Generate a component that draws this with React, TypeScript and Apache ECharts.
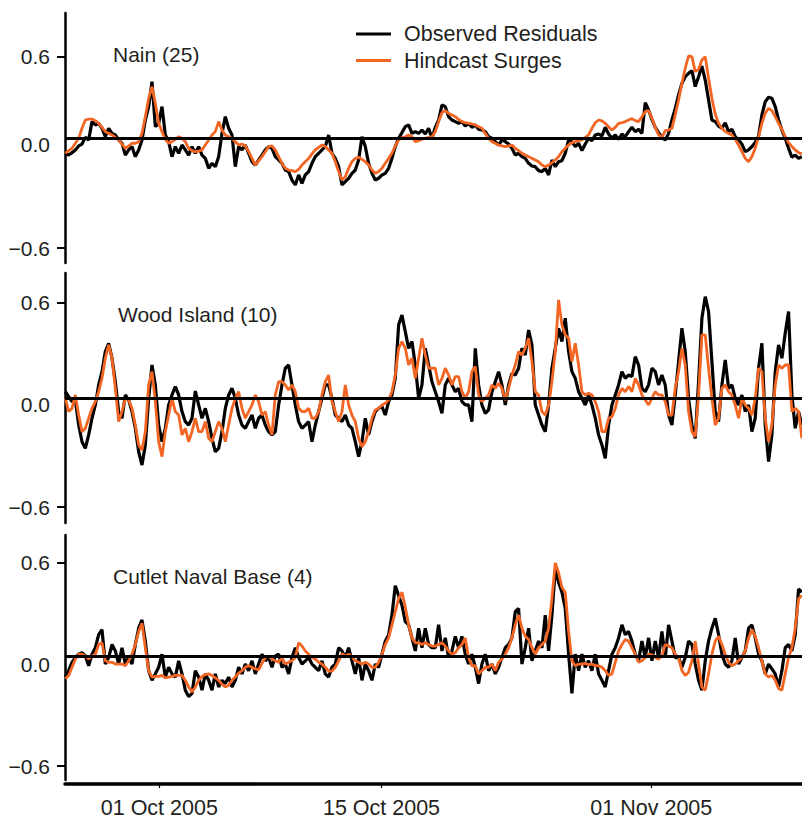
import React, { useEffect, useRef } from "react";
import * as echarts from "echarts";

// ---- Data (storm surge residuals, metres), sampled every ~5 h from 25 Sep 2005 ----
const START_TIME = Date.UTC(2005, 8, 25, 1, 54);
const STEP_HOURS = 5.04;

const SERIES_NAMES = ["Observed Residuals", "Hindcast Surges"];
const STATIONS = ["Nain (25)", "Wood Island (10)", "Cutlet Naval Base (4)"];
const REF_LEVEL = [0.089, 0.04, 0.046];
const Y_TICKS = [-0.6, 0, 0.6];
const X_TICK_DATES = ["2005-10-01", "2005-10-15", "2005-11-01"];

const NAIN_OBS = [
  -0.005, -0.016, -0.001, 0.016, 0.041, 0.053, 0.095, 0.079, 0.194, 0.173,
  0.183, 0.152, 0.099, 0.152, 0.12, 0.11, 0.079, 0.058, -0.016, 0.016,
  0.037, -0.026, 0.016, 0.079, 0.204, 0.288, 0.445, 0.162, 0.183, 0.288,
  0.11, 0.068, -0.026, 0.037, -0.005, 0.047, 0.016, -0.016, 0.037, -0.005,
  0.037, -0.016, -0.037, -0.099, -0.068, -0.089, -0.026, 0.12, 0.225, 0.152,
  0.11, -0.089, 0.037, 0.016, 0.047, -0.005, -0.058, -0.079, -0.047, -0.016,
  0.016, 0.037, 0.026, -0.026, -0.047, -0.068, -0.11, -0.12, -0.173, -0.204,
  -0.141, -0.194, -0.141, -0.12, -0.068, -0.026, -0.005, 0.016, 0.037, 0.11,
  -0.005, -0.037, -0.089, -0.204, -0.183, -0.162, -0.131, -0.11, -0.047, 0.099,
  0.037, -0.068, -0.131, -0.173, -0.162, -0.141, -0.131, -0.099, -0.037, 0.037,
  0.089, 0.125, 0.162, 0.173, 0.12, 0.131, 0.12, 0.141, 0.116, 0.152,
  0.089,
  0.158, 0.204, 0.298, 0.288, 0.225, 0.204, 0.194, 0.183, 0.194, 0.166,
  0.183, 0.158, 0.173, 0.146, 0.141, 0.131, 0.099, 0.089, 0.068, 0.047,
  0.079, 0.068, 0.053, 0.026, -0.016, -0.005, -0.026, -0.037, -0.068, -0.085,
  -0.089, -0.114, -0.12, -0.099, -0.141, -0.047, -0.089, -0.058, -0.051, -0.005,
  0.079, 0.068, 0.037, 0.058, 0.012, 0.053, 0.089, 0.074, 0.11, 0.116,
  0.104, 0.158, 0.116, 0.089, 0.11, 0.083, 0.116, 0.099, 0.131, 0.158,
  0.131, 0.146, 0.12, 0.313, 0.267, 0.208, 0.158, 0.125, 0.095, 0.079,
  0.12, 0.204, 0.277, 0.361, 0.435, 0.476, 0.497, 0.514, 0.414, 0.476,
  0.543, 0.455, 0.33, 0.204, 0.194, 0.166, 0.152, 0.187, 0.131, 0.146,
  0.099, 0.079, 0.053, 0.005, 0.016, 0.037, 0.062, 0.104, 0.236, 0.319,
  0.347, 0.34, 0.288, 0.204, 0.141, 0.089, 0.026, -0.03, -0.016, -0.037,
  -0.026,
];

const NAIN_HIND = [
  -0.005, 0.012, 0.026, 0.058, 0.089, 0.152, 0.204, 0.21, 0.21, 0.2,
  0.183, 0.158, 0.131, 0.12, 0.11, 0.095, 0.079, 0.053, 0.026, 0.041,
  0.058, 0.058, 0.068, 0.12, 0.225, 0.34, 0.414, 0.309, 0.183, 0.131,
  0.083, 0.058, 0.068, 0.083, 0.099, 0.089, 0.068, 0.026, 0.012, 0.005,
  0.009, 0.016, 0.047, 0.079, 0.11, 0.131, 0.194, 0.141, 0.11, 0.099,
  0.089, 0.068, 0.047, 0.053, 0.041, 0.005, -0.037, -0.079, -0.051, -0.026,
  0.005, 0.037, 0.041, 0.016, -0.026, -0.068, -0.099, -0.11, -0.114, -0.12,
  -0.106, -0.079, -0.058, -0.037, -0.009, 0.016, 0.032, 0.047, 0.037, 0.016,
  -0.005, -0.058, -0.12, -0.173, -0.152, -0.099, -0.058, -0.037, -0.03, -0.043,
  -0.058, -0.079, -0.11, -0.131, -0.12, -0.099, -0.068, -0.037, -0.005, 0.041,
  0.079, 0.093, 0.099, 0.11, 0.099, 0.068, 0.074, 0.083, 0.089, 0.095,
  0.099,
  0.131, 0.194, 0.25, 0.263, 0.246, 0.236, 0.225, 0.208, 0.194, 0.187,
  0.183, 0.179, 0.173, 0.162, 0.152, 0.12, 0.089, 0.068, 0.058, 0.047,
  0.041, 0.037, 0.041, 0.047, 0.026, 0.012, -0.005, -0.016, -0.026, -0.037,
  -0.047, -0.058, -0.079, -0.089, -0.079, -0.064, -0.047, -0.026, 0.005, 0.026,
  0.047, 0.062, 0.068, 0.074, 0.079, 0.095, 0.11, 0.152, 0.187, 0.204,
  0.198, 0.183, 0.162, 0.141, 0.158, 0.183, 0.187, 0.194, 0.204, 0.213,
  0.2, 0.194, 0.225, 0.257, 0.263, 0.215, 0.158, 0.11, 0.095, 0.137,
  0.141, 0.152, 0.236, 0.33, 0.435, 0.529, 0.606, 0.602, 0.508, 0.522,
  0.581, 0.602, 0.466, 0.34, 0.242, 0.183, 0.152, 0.131, 0.12, 0.11,
  0.083, 0.047, 0.005, -0.037, -0.058, -0.026, 0.026, 0.099, 0.183, 0.246,
  0.277, 0.263, 0.225, 0.183, 0.146, 0.099, 0.062, 0.037, 0.016, -0.001,
  -0.009,
];

const WOOD_OBS = [
  0.078, 0.049, 0.02, 0.029, -0.118, -0.216, -0.255, -0.176, -0.078, 0,
  0.118, 0.196, 0.314, 0.363, 0.275, 0.137, -0.039, -0.078, 0.059, 0.029,
  -0.039, -0.137, -0.275, -0.353, -0.235, 0.039, 0.235, 0.118, -0.118, -0.216,
  -0.137, 0, 0.059, 0.108, 0.059, -0.039, -0.098, -0.118, -0.078, 0.082,
  0, -0.078, -0.02, -0.098, -0.196, -0.275, -0.255, -0.157, -0.02, 0.059,
  0.098, 0.039, -0.059, -0.118, -0.137, -0.098, -0.059, -0.137, -0.078, -0.059,
  -0.118, -0.157, -0.176, -0.157, 0, 0.118, 0.216, 0.235, 0.118, 0,
  -0.098, -0.137, -0.118, -0.098, -0.216, -0.118, -0.039, 0.039, 0.118, 0.118,
  0.039, -0.059, -0.078, -0.098, -0.059, -0.118, -0.137, -0.216, -0.304, -0.216,
  -0.078, -0.176, -0.098, -0.039, -0.02, -0.01, -0.059, 0.02, 0.059, 0.157,
  0.471, 0.529, 0.431, 0.333, 0.373, 0.235, 0.039, 0.118, 0.333, 0.235,
  0.137,
  0.078, 0.02, -0.049, 0.118, 0.157, 0.118, 0.078, 0.098, 0.02, 0,
  0, -0.098, 0.333, 0.118, 0, -0.049, -0.029, 0.078, 0.137, 0.196,
  0.118, 0, 0.118, 0.186, 0.176, 0.216, 0.333, 0.294, 0.441, 0.353,
  0, -0.059, -0.118, -0.157, 0, 0.216, 0.333, 0.451, 0.373, 0.51,
  0.314, 0.196, 0.157, 0.078, 0.039, 0, 0.059, 0, -0.078, -0.176,
  -0.235, -0.314, -0.118, 0, 0.059, 0.118, 0.196, 0.157, 0.176, 0.167,
  0.284, 0.235, 0.098, 0.078, 0.118, 0.216, 0.196, 0.118, 0.176, 0.118,
  -0.059, -0.118, 0.059, 0.255, 0.451, 0.314, 0.039, -0.118, -0.196, 0.137,
  0.51, 0.637, 0.549, 0.255, -0.039, -0.098, 0.118, 0.265, 0.098, 0.118,
  0.039, 0, 0.059, -0.039, 0, -0.157, -0.078, 0.216, 0.363, -0.118,
  -0.333, -0.176, 0.196, 0.353, 0.275, 0.422, 0.549, 0.059, -0.137, -0.039,
  -0.118,
];

const WOOD_HIND = [
  0.039, -0.039, -0.02, 0.059, -0.059, -0.157, -0.137, -0.078, -0.02, 0.02,
  0.078, 0.157, 0.275, 0.353, 0.275, 0.098, -0.098, -0.039, 0.039, 0.029,
  -0.02, -0.118, -0.235, -0.265, -0.157, 0.118, 0.196, 0.02, -0.216, -0.304,
  -0.157, -0.059, 0.039, -0.039, -0.059, -0.176, -0.137, -0.216, -0.157, -0.078,
  -0.157, -0.157, -0.098, -0.196, -0.216, -0.157, -0.098, -0.137, -0.216, -0.118,
  -0.02, 0.039, 0.078, -0.02, -0.078, -0.039, 0, 0.059, 0.02, -0.059,
  -0.039, -0.118, -0.176, 0.059, 0.137, 0.137, 0.118, 0.088, 0.118, 0.078,
  -0.02, -0.039, -0.039, -0.02, -0.078, -0.078, -0.039, 0.059, 0.137, 0.176,
  0.02, -0.039, -0.098, -0.039, 0.118, 0, -0.059, -0.098, -0.196, -0.245,
  -0.216, -0.157, -0.078, -0.029, -0.02, 0, 0.01, 0.029, 0.078, 0.176,
  0.333, 0.373, 0.333, 0.235, 0.275, 0.157, 0.275, 0.392, 0.294, 0.216,
  0.216,
  0.216, 0.118, 0.157, 0.216, 0.176, 0.118, 0.167, 0.167, 0.078, 0.039,
  0.078, 0.196, 0.226, 0.059, 0.02, 0.039, 0.059, 0.118, 0.098, 0.127,
  0.098, 0.029, 0.098, 0.176, 0.235, 0.314, 0.294, 0.333, 0.392, 0.255,
  0.078, 0.059, -0.039, -0.059, 0, 0.137, 0.314, 0.618, 0.471, 0.412,
  0.392, 0.255, 0.363, 0.235, 0.078, 0.059, 0.069, 0.059, 0.02, -0.039,
  -0.157, -0.157, -0.078, -0.069, -0.02, 0.059, 0.098, 0.078, 0.108, 0.078,
  0.157, 0.118, 0.059, 0.029, 0, 0.039, 0.078, 0.059, 0.059, 0.02,
  -0.059, -0.059, 0.098, 0.196, 0.333, 0.235, -0.039, -0.157, -0.186, 0.059,
  0.412, 0.412, 0.216, 0.039, -0.118, -0.078, 0.098, 0.118, 0.078, 0.059,
  0, -0.078, 0.039, 0, -0.02, -0.059, 0.039, 0.216, 0.196, -0.078,
  -0.216, -0.118, 0.118, 0.235, 0.216, 0.235, 0.235, -0.039, -0.02, -0.039,
  -0.196,
];

const CUTLET_OBS = [
  -0.075, -0.037, 0.012, 0.04, 0.06, 0.069, 0.05, -0.008, 0.06, 0.098,
  0.175, 0.204, 0.002, 0.04, 0.117, 0.079, 0.002, 0.098, 0.002, 0.04,
  0.002, 0.117, 0.213, 0.262, 0.137, -0.037, -0.094, -0.056, -0.017, 0.06,
  -0.075, -0.017, -0.056, -0.075, 0.021, -0.056, -0.152, -0.19, -0.171, -0.037,
  -0.075, -0.152, -0.056, -0.094, -0.152, -0.056, -0.133, -0.094, -0.113, -0.075,
  -0.133, -0.094, -0.017, -0.056, 0.002, -0.037, 0.021, -0.056, 0.002, 0.06,
  0.021, 0.04, -0.017, 0.05, 0.06, -0.017, 0.002, -0.056, 0.04, 0.098,
  0.04, 0.002, 0.021, 0.04, 0.002, -0.017, -0.037, 0.021, -0.056, -0.075,
  -0.017, 0.002, 0.098, 0.079, 0.04, 0.098, 0.021, -0.056, 0.04, -0.094,
  0.002, -0.037, -0.094, 0.002, -0.017, 0.06, 0.137, 0.175, 0.29, 0.463,
  0.406, 0.348, 0.252, 0.233, 0.156, 0.079, 0.213, 0.098, 0.213, 0.117,
  0.098,
  0.098, 0.233, 0.079, 0.156, 0.04, 0.079, 0.165, 0.098, 0.165, 0.06,
  0.002, 0.06, -0.017, -0.113, 0.002, 0.06, -0.037, 0.002, -0.056, -0.017,
  0.04, 0.098, 0.117, 0.156, 0.31, 0.329, 0.002, 0.098, 0.213, 0.021,
  0.079, 0.137, 0.098, 0.29, 0.079, 0.29, 0.56, 0.483, 0.425, 0.329,
  0.06, -0.171, 0.06, -0.037, 0.06, -0.017, 0.021, -0.037, 0.06, -0.056,
  -0.094, -0.133, -0.037, 0.06, 0.098, 0.156, 0.233, 0.175, 0.194, 0.137,
  0.06, 0.021, 0.137, 0.04, 0.156, 0.021, 0.137, 0.04, 0.194, 0.04,
  0.233, 0.137, 0.04, 0.04, -0.017, 0.04, 0.137, 0.117, 0.002, -0.094,
  -0.152, 0.021, 0.137, 0.213, 0.271, 0.175, 0.06, 0.002, -0.017, 0.021,
  0.156, 0.002, 0.04, 0.079, 0.213, 0.233, 0.156, 0.06, 0.021, -0.056,
  0.002, -0.027, -0.056, -0.133, -0.037, 0.098, 0.117, 0.079, 0.175, 0.444,
  0.425,
];

const CUTLET_HIND = [
  -0.085, -0.065, -0.017, 0.031, 0.06, 0.06, 0.05, 0.031, 0.05, 0.06,
  0.117, 0.127, 0.021, 0.012, 0.012, 0.002, 0.002, 0.002, -0.008, 0.021,
  0.06, 0.117, 0.194, 0.242, 0.098, -0.037, -0.075, -0.071, -0.071, -0.065,
  -0.079, -0.075, -0.071, -0.065, -0.065, -0.065, -0.094, -0.133, -0.162, -0.133,
  -0.094, -0.071, -0.06, -0.056, -0.065, -0.079, -0.094, -0.117, -0.133, -0.123,
  -0.094, -0.075, -0.052, -0.037, -0.017, -0.008, -0.017, -0.027, -0.033, 0.006,
  0.04, 0.05, 0.031, 0.021, 0.012, 0.04, 0.002, 0.012, 0.021, 0.04,
  0.127, 0.108, 0.079, 0.06, 0.04, 0.031, 0.012, 0.002, -0.017, -0.04,
  -0.04, -0.017, 0.021, 0.063, 0.05, 0.06, 0.044, 0.021, 0.012, 0.002,
  0.012, 0.002, -0.017, -0.017, 0.012, 0.06, 0.117, 0.156, 0.233, 0.31,
  0.387, 0.425, 0.338, 0.233, 0.156, 0.127, 0.127, 0.117, 0.127, 0.117,
  0.108,
  0.108, 0.117, 0.127, 0.108, 0.079, 0.06, 0.069, 0.098, 0.117, 0.156,
  0.04, -0.008, -0.008, -0.056, -0.037, -0.017, -0.017, 0.002, -0.037, 0.012,
  0.031, 0.06, 0.098, 0.156, 0.233, 0.29, 0.213, 0.165, 0.146, 0.098,
  0.06, 0.098, 0.117, 0.137, 0.213, 0.387, 0.598, 0.54, 0.454, 0.425,
  0.194, 0.021, -0.008, 0.002, 0.002, 0.006, -0.002, 0.002, -0.008, -0.008,
  -0.017, -0.037, -0.065, -0.056, 0.012, 0.079, 0.117, 0.146, 0.137, 0.098,
  0.06, 0.012, 0.021, 0.04, 0.06, 0.056, 0.04, 0.031, 0.05, 0.117,
  0.108, 0.098, 0.06, 0.04, -0.037, -0.065, -0.046, 0.021, 0.137, 0.002,
  -0.133, -0.152, -0.056, 0.06, 0.137, 0.165, 0.117, 0.06, 0.012, -0.008,
  0.002, 0.021, 0.04, 0.079, 0.156, 0.204, 0.165, 0.098, 0.021, -0.056,
  -0.075, -0.065, -0.094, -0.142, -0.152, -0.056, 0.04, 0.098, 0.213, 0.387,
  0.406,
];

const OBS = [NAIN_OBS, WOOD_OBS, CUTLET_OBS];
const HIND = [NAIN_HIND, WOOD_HIND, CUTLET_HIND];

// ---- Layout / style ----
const TEXT_COLOR = "#231f20";
const OBS_COLOR = "#000000";
const HIND_COLOR = "#f26522";
const FONT = "'Liberation Sans', Arial, Helvetica, sans-serif";
const GRID_TOPS = [13, 273, 535];
const GRID_HEIGHT = 250;
const Y_MIN = [-0.694, -0.694, -0.681];
const Y_MAX = [0.876, 0.776, 0.762];
const TITLE_POS = [
  { left: 113, top: 44 },
  { left: 118, top: 304 },
  { left: 113, top: 566 },
];
const X_MIN = Date.UTC(2005, 8, 25, 1, 23);
const X_MAX = Date.UTC(2005, 10, 10, 11, 54);

const MONTHS = ["Jan", "Feb", "Mar", "Apr", "May", "Jun", "Jul", "Aug", "Sep", "Oct", "Nov", "Dec"];
function fmtDate(v: number): string {
  const d = new Date(v);
  return String(d.getUTCDate()).padStart(2, "0") + " " + MONTHS[d.getUTCMonth()] + " " + d.getUTCFullYear();
}
function fmtY(v: number): string {
  const s = Math.abs(v).toFixed(1);
  return v < 0 ? "\u2212" + s : s;
}
function toPairs(vals: number[]): [number, number][] {
  return vals.map((v, i) => [START_TIME + i * STEP_HOURS * 3600000, v]);
}

export default function App() {
  const ref = useRef<HTMLDivElement>(null);
  useEffect(() => {
    if (!ref.current) return;
    const chart = echarts.init(ref.current, undefined, { renderer: "svg" });
    const tickTimes = X_TICK_DATES.map((s) => Date.parse(s + "T00:00:00Z"));

    const grids = GRID_TOPS.map((top) => ({ left: 65, right: 0, top, height: GRID_HEIGHT }));
    const xAxes = GRID_TOPS.map((_, i) => {
      const last = i === GRID_TOPS.length - 1;
      return {
        type: "value",
        gridIndex: i,
        min: X_MIN,
        max: X_MAX,
        show: last,
        offset: last ? 4 : 0,
        axisLine: { show: last, onZero: false, lineStyle: { color: "#000", width: 3.5 } },
        axisTick: {
          show: last,
          customValues: tickTimes,
          length: 4,
          lineStyle: { color: "#000", width: 1.2 },
        },
        axisLabel: {
          show: last,
          customValues: tickTimes,
          formatter: (v: number) => fmtDate(v),
          fontSize: 21.5,
          color: TEXT_COLOR,
          margin: 13,
          fontFamily: FONT,
        },
        splitLine: { show: false },
      };
    });
    const yAxes = GRID_TOPS.map((_, i) => ({
      type: "value",
      gridIndex: i,
      min: Y_MIN[i],
      max: Y_MAX[i],
      axisLine: { show: true, onZero: false, lineStyle: { color: "#000", width: 2.5 } },
      axisTick: {
        show: true,
        customValues: [Y_TICKS[0], Y_TICKS[2]],
        length: 8,
        lineStyle: { color: "#000", width: 2 },
      },
      axisLabel: {
        customValues: Y_TICKS,
        fontSize: 21,
        color: TEXT_COLOR,
        margin: 15,
        fontFamily: FONT,
        formatter: (v: number) => (i === 0 && v === 0 ? "{z|" + fmtY(v) + "}" : fmtY(v)),
        rich: {
          z: { fontSize: 21, color: TEXT_COLOR, fontFamily: FONT, padding: [0, 0, 16, 0] },
        },
      },
      splitLine: { show: false },
    }));

    const series: any[] = [];
    GRID_TOPS.forEach((_, i) => {
      series.push({
        name: SERIES_NAMES[0],
        type: "line",
        xAxisIndex: i,
        yAxisIndex: i,
        data: toPairs(OBS[i]),
        showSymbol: false,
        symbol: "none",
        lineStyle: { color: OBS_COLOR, width: 3.2 },
        itemStyle: { color: OBS_COLOR },
        z: 2,
        markLine: {
          silent: true,
          symbol: "none",
          label: { show: false },
          lineStyle: { color: "#000", width: 3.2, type: "solid" },
          data: [{ yAxis: REF_LEVEL[i] }],
        },
      });
      series.push({
        name: SERIES_NAMES[1],
        type: "line",
        xAxisIndex: i,
        yAxisIndex: i,
        data: toPairs(HIND[i]),
        showSymbol: false,
        symbol: "none",
        lineStyle: { color: HIND_COLOR, width: 2.8 },
        itemStyle: { color: HIND_COLOR },
        z: 3,
      });
    });

    chart.setOption({
      animation: false,
      backgroundColor: "#ffffff",
      textStyle: { fontFamily: FONT },
      title: STATIONS.map((t, i) => ({
        text: t,
        left: TITLE_POS[i].left,
        top: TITLE_POS[i].top,
        padding: 0,
        textStyle: { fontSize: 21, fontWeight: "normal", color: TEXT_COLOR, fontFamily: FONT },
      })),
      legend: {
        data: SERIES_NAMES,
        orient: "vertical",
        left: 356,
        top: 23,
        padding: 0,
        itemWidth: 35,
        itemHeight: 3,
        itemGap: 4.5,
        icon: "rect",
        selectedMode: false,
        textStyle: { fontSize: 21.5, color: TEXT_COLOR, fontFamily: FONT, padding: [0, 0, 0, 8] },
      },
      grid: grids,
      xAxis: xAxes,
      yAxis: yAxes,
      series,
    });
    return () => chart.dispose();
  }, []);
  return (
    <div
      ref={ref}
      style={{ position: "absolute", left: 0, top: 0, width: 802, height: 819, background: "#fff" }}
    />
  );
}
